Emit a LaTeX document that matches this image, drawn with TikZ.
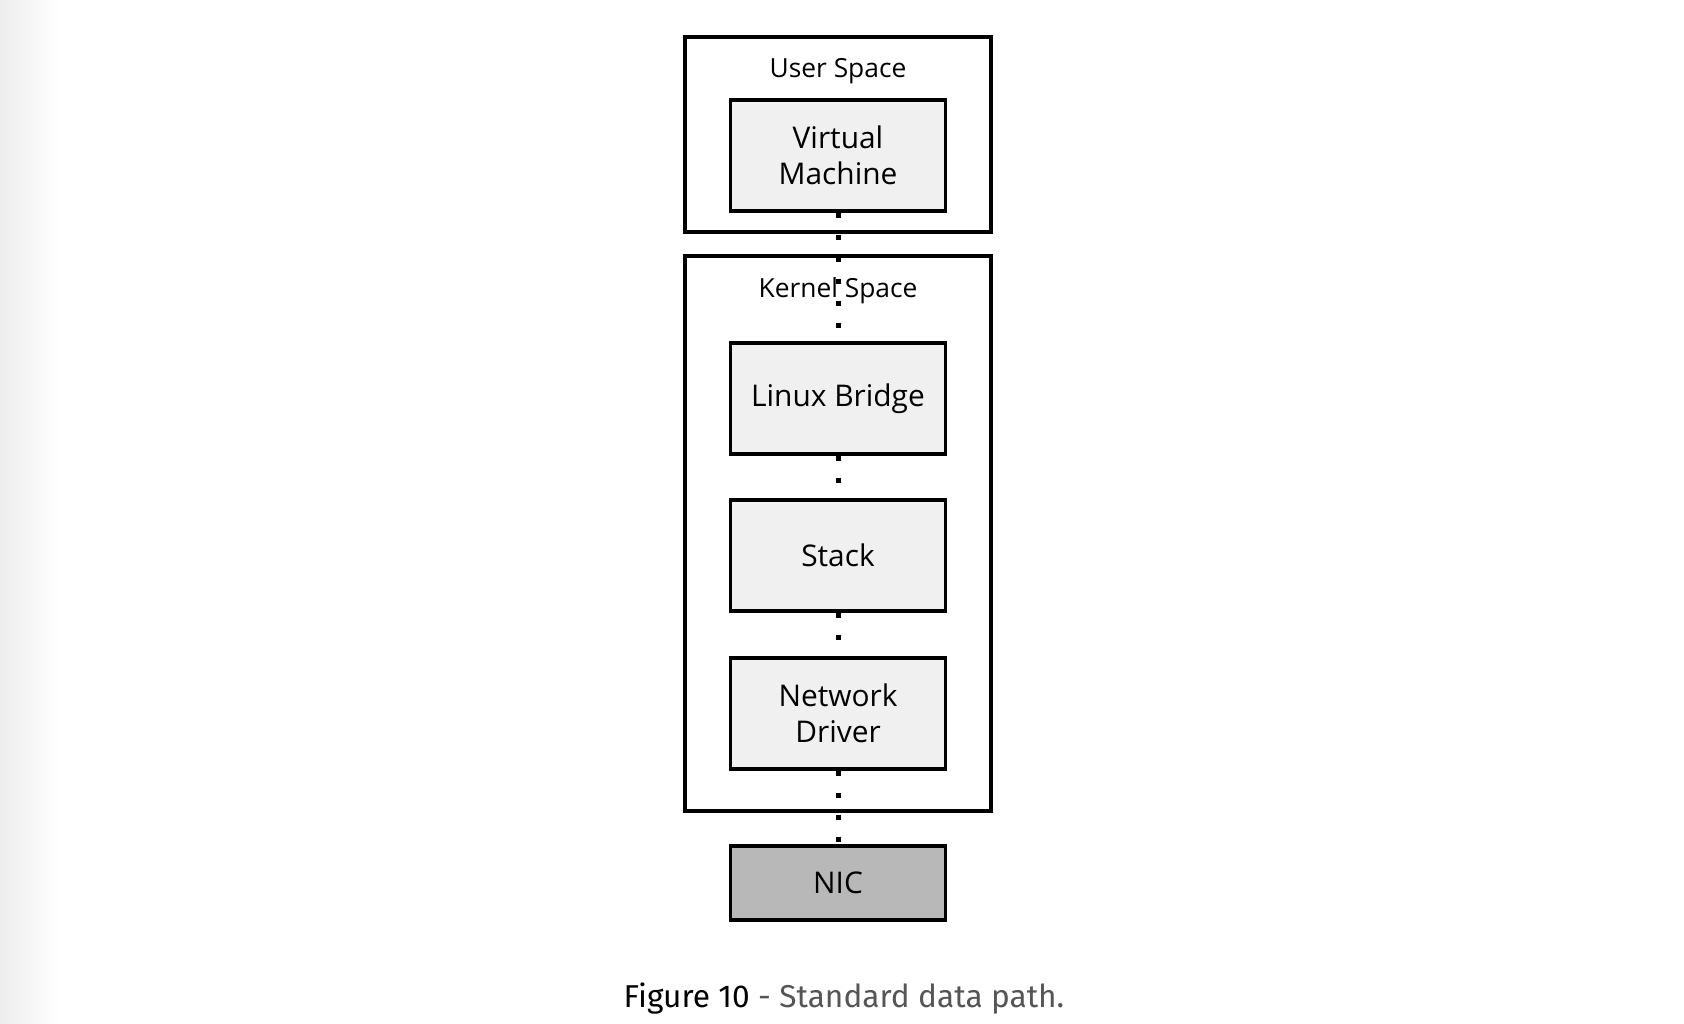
\documentclass[tikz,border=0pt]{standalone}
\usepackage{fontspec}
\setmainfont{Open Sans}
\newfontfamily\capfont{Fira Sans}
\usepackage{tikz}
\usetikzlibrary{positioning,calc}
\definecolor{boxgray}{RGB}{240,240,240}
\definecolor{nicgray}{RGB}{184,184,184}
\definecolor{capgray}{RGB}{85,85,85}

\begin{document}
\begin{tikzpicture}[x=0.02cm, y=-0.02cm,
    space/.style={rectangle, draw, line width=1.8pt, minimum width=6.12cm, inner sep=0pt},
    block/.style={rectangle, draw, line width=1.8pt, fill=boxgray, minimum width=4.3cm, minimum height=2.22cm, align=center, inner sep=0pt, font=\fontsize{17}{20.5}\selectfont},
    spacelabel/.style={anchor=base, inner sep=0pt, font=\fontsize{15}{18}\selectfont},
    link/.style={line width=0.1cm, dash pattern=on 0.1cm off 0.34cm}
]
\useasboundingbox (0,0) rectangle (1684,1024);
\shade[left color=black!7, right color=white] (0,0) rectangle (60,1024);

% User space
\node[space, minimum height=3.9cm] (user) at (838,134.5) {};
\node[spacelabel] (userlbl) at (838,78) {User Space};
\node[block] (vm) at (838,155.5) {Virtual\\Machine};

% Kernel space
\node[space, minimum height=11.1cm] (kernel) at (838,533.5) {};
\node[spacelabel] (kernellbl) at (838,297) {Kernel Space};
\node[block] (bridge) at (838,398.5) {Linux Bridge};
\node[block] (stack) at (838,555.5) {Stack};
\node[block] (driver) at (838,713.5) {Network\\Driver};

% NIC
\node[block, fill=nicgray, minimum height=1.48cm] (nic) at (838,883) {NIC};

% Data path
\draw[link] (vm) -- (bridge);
\draw[link] (bridge) -- (stack);
\draw[link] (stack) -- (driver);
\draw[link] (driver) -- (nic);

% Caption
\node[anchor=base, inner sep=0pt, font=\capfont\fontsize{18}{22}\selectfont] (caption) at (844,1007) {Figure 10 \textcolor{capgray}{- Standard data path.}};
\end{tikzpicture}
\end{document}
